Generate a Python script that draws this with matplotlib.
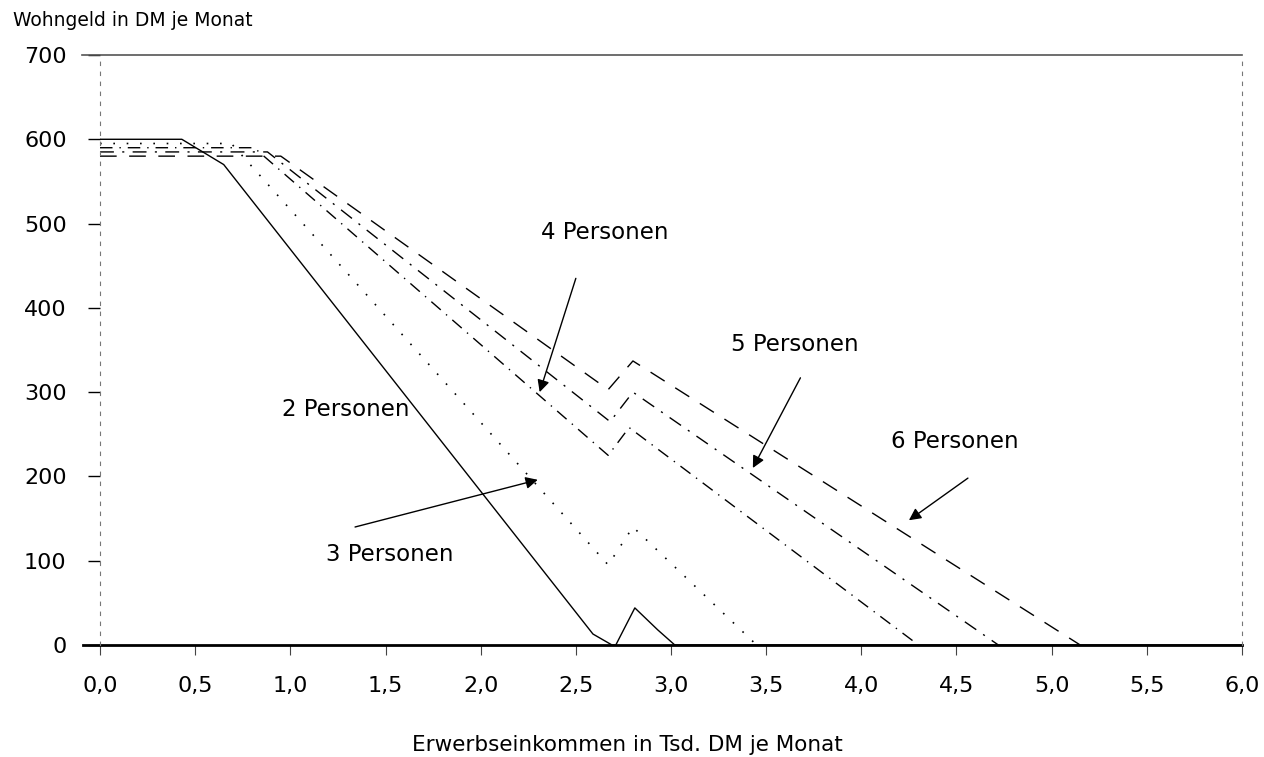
import matplotlib
matplotlib.use("Agg")
from matplotlib import pyplot as plt

plt.rcParams['font.family'] = ['DejaVu Sans']

# Wohngeld je Haushaltsgröße
x2 = [0.0, 0.43, 0.65, 2.59, 2.69, 2.71, 2.81, 2.93, 3.02, 6.0]
y2 = [600, 600, 570, 13, 0, 0, 44, 18, 0, 0]

x3 = [0.0, 0.69, 2.67, 2.80, 3.45]
y3 = [595, 595, 95, 140, 0]

x4 = [0.0, 0.81, 2.67, 2.78, 4.30]
y4 = [590, 590, 225, 258, 0]

x5 = [0.0, 0.88, 2.68, 2.80, 4.72]
y5 = [585, 585, 265, 300, 0]

x6 = [0.0, 0.95, 2.67, 2.80, 5.15]
y6 = [580, 580, 303, 337, 0]

xticks = [0.0, 0.5, 1.0, 1.5, 2.0, 2.5, 3.0, 3.5, 4.0, 4.5, 5.0, 5.5, 6.0]
yticks = [0, 100, 200, 300, 400, 500, 600, 700]

# Beschriftungen: (Text, Textposition, Pfeil-Start, Pfeil-Spitze)
labels = [
    ("2 Personen", (1.29, 279), None, None),
    ("3 Personen", (1.52, 107), (1.34, 140), (2.30, 196)),
    ("4 Personen", (2.65, 490), (2.50, 435), (2.31, 300)),
    ("5 Personen", (3.65, 356), (3.68, 317), (3.43, 210)),
    ("6 Personen", (4.49, 241), (4.56, 198), (4.25, 148)),
]

fig = plt.figure(figsize=(12.64, 7.57), dpi=100)
ax = fig.add_axes([100 / 1264, 1 - 645 / 757, 1142 / 1264, 590 / 757])

lw = 1.0
ax.plot(x2, y2, color="black", linewidth=lw)
ax.plot(x3, y3, color="black", linewidth=1.2, linestyle=(0, (1, 7)))
ax.plot(x4, y4, color="black", linewidth=lw, linestyle=(0, (9, 5, 1, 5)))
ax.plot(x5, y5, color="black", linewidth=lw, linestyle=(0, (10, 6, 1.5, 6)))
ax.plot(x6, y6, color="black", linewidth=lw, linestyle=(0, (12, 9)))

# Rahmenlinien wie in der Vorlage
ax.plot([-0.095, 6.0], [700, 700], color="#555555", linewidth=1.2, clip_on=False)
ax.plot([-0.09, 6.0], [0, 0], color="black", linewidth=2.0, clip_on=False)

ax.set_xlim(0, 6)
ax.set_ylim(0, 700)
for side in ["top", "bottom"]:
    ax.spines[side].set_visible(False)
for side in ["left", "right"]:
    ax.spines[side].set_linestyle((0, (3, 6)))
    ax.spines[side].set_color("#777777")
    ax.spines[side].set_linewidth(0.8)

ax.set_xticks(xticks)
ax.set_xticklabels([f"{v:.1f}".replace(".", ",") for v in xticks], fontsize=16)
ax.set_yticks(yticks)
ax.set_yticklabels([str(v) for v in yticks], fontsize=16)
ax.tick_params(axis="x", length=7, width=0.8, pad=15, color="#444444")
ax.tick_params(axis="y", length=9, width=1.0, pad=15)

for text, pos, start, end in labels:
    ax.text(pos[0], pos[1], text, fontsize=16.5, ha="center", va="center")
    if start is not None:
        ax.annotate("", xy=end, xytext=start,
                    arrowprops=dict(arrowstyle="-|>", color="black", lw=1.0,
                                    mutation_scale=18, shrinkA=0, shrinkB=0))

fig.text(13 / 1264, 1 - 20 / 757, "Wohngeld in DM je Monat", fontsize=13.5,
         ha="left", va="center")
fig.text(627 / 1264, 1 - 745 / 757, "Erwerbseinkommen in Tsd. DM je Monat",
         fontsize=15.5, ha="center", va="center")

fig.savefig("out.png", dpi=100)
